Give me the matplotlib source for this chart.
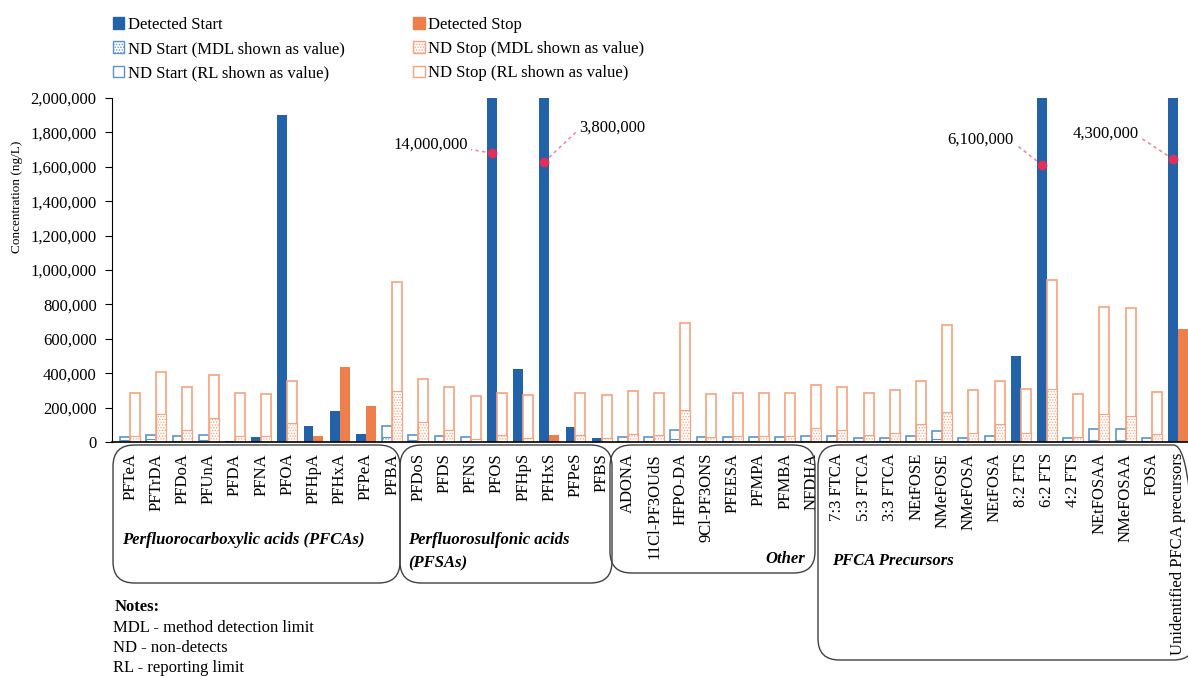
import numpy as np
import matplotlib.pyplot as plt
from matplotlib.patches import Patch, FancyBboxPatch

plt.rcParams['font.family'] = ['Liberation Serif', 'DejaVu Serif']
plt.rcParams['hatch.linewidth'] = 0.6

# compounds, in plot order
names = ["PFTeA", "PFTrDA", "PFDoA", "PFUnA", "PFDA", "PFNA", "PFOA", "PFHpA", "PFHxA", "PFPeA", "PFBA",
         "PFDoS", "PFDS", "PFNS", "PFOS", "PFHpS", "PFHxS", "PFPeS", "PFBS",
         "ADONA", "11Cl-PF3OUdS", "HFPO-DA", "9Cl-PF3ONS", "PFEESA", "PFMPA", "PFMBA", "NFDHA",
         "7:3 FTCA", "5:3 FTCA", "3:3 FTCA", "NEtFOSE", "NMeFOSE", "NMeFOSA", "NEtFOSA",
         "8:2 FTS", "6:2 FTS", "4:2 FTS", "NEtFOSAA", "NMeFOSAA", "FOSA", "Unidentified PFCA precursors"]

groups = ["Perfluorocarboxylic acids (PFCAs)", "Perfluorosulfonic acids\n(PFSAs)", "Other", "PFCA Precursors"]
group_sizes = [11, 8, 8, 14]

# start sample: detected value (None = non-detect), MDL and RL for non-detects (ng/L)
start_det = [None, None, None, None, 8000, 27000, 1900000, 91000, 178000, 45000, None,
             None, None, None, 14000000, 423000, 3800000, 87000, 21000,
             None, None, None, None, None, None, None, None,
             None, None, None, None, None, None, None,
             500000, 6100000, None, None, None, None, 4300000]
start_mdl = [10000, 17000, 5000, 12000, 0, 0, 0, 0, 0, 0, 27000,
             10000, 6000, 4000, 0, 0, 0, 0, 0,
             5000, 5000, 15000, 5000, 5000, 5000, 5000, 6000,
             6000, 5000, 5000, 6000, 17000, 5000, 6000,
             0, 0, 5000, 10000, 10000, 5000, 0]
start_rl = [27000, 39000, 33000, 39000, 0, 0, 0, 0, 0, 0, 91000,
            39000, 33000, 27000, 0, 0, 0, 0, 0,
            27000, 27000, 70000, 27000, 27000, 27000, 27000, 33000,
            33000, 25000, 25000, 33000, 64000, 25000, 33000,
            0, 0, 25000, 74000, 74000, 25000, 0]

# stop sample
stop_det = [None, None, None, None, None, None, None, 33000, 438000, 209000, None,
            None, None, None, None, None, 39000, None, None,
            None, None, None, None, None, None, None, None,
            None, None, None, None, None, None, None,
            None, None, None, None, None, None, 659000]
stop_mdl = [37000, 161000, 68000, 138000, 37000, 32000, 109000, 0, 0, 0, 298000,
            116000, 68000, 16000, 39000, 21000, 0, 39000, 21000,
            48000, 39000, 184000, 27000, 35000, 35000, 35000, 80000,
            68000, 39000, 54000, 107000, 174000, 54000, 107000,
            54000, 308000, 27000, 161000, 149000, 45000, 0]
stop_rl = [287000, 409000, 320000, 388000, 287000, 281000, 357000, 0, 0, 0, 932000,
           368000, 320000, 266000, 287000, 271000, 0, 287000, 271000,
           298000, 287000, 692000, 277000, 283000, 283000, 283000, 330000,
           320000, 287000, 302000, 357000, 680000, 302000, 357000,
           308000, 942000, 277000, 787000, 781000, 293000, 0]

# off-scale values marked with a dot on the bar
offscale = ["PFOS", "PFHxS", "6:2 FTS", "Unidentified PFCA precursors"]

BLUE = "#2361A9"
BLUE_L = "#5B93CF"
ORANGE = "#EF7F4A"
ORANGE_L = "#F6A27E"

fig = plt.figure(figsize=(11.88, 6.77), dpi=100)
ax = fig.add_axes([112/1188, 1 - 442/677, 1 - 112/1188, 344/677])

x = np.arange(len(names))
w = 0.38
xs = x - w/2
xe = x + w/2

det_s = np.array([v if v is not None else 0 for v in start_det], float)
det_e = np.array([v if v is not None else 0 for v in stop_det], float)

ax.bar(xs, start_rl, w, facecolor="white", edgecolor=BLUE_L, linewidth=1.2)
ax.bar(xs, start_mdl, w, facecolor="white", edgecolor=BLUE_L, linewidth=0.8, hatch="......")
ax.bar(xs, det_s, w, color=BLUE, linewidth=0)
ax.bar(xe, stop_rl, w, facecolor="white", edgecolor=ORANGE_L, linewidth=1.2)
ax.bar(xe, stop_mdl, w, facecolor="white", edgecolor=ORANGE_L, linewidth=0.8, hatch="......")
ax.bar(xe, det_e, w, color=ORANGE, linewidth=0)

ax.set_ylim(0, 2000000)
ax.set_xlim(-0.69, len(names) - 1 + 0.38)
ax.set_yticks(np.arange(0, 2000001, 200000))
ax.yaxis.set_major_formatter(plt.FuncFormatter(lambda v, p: f"{int(v):,}"))
ax.tick_params(axis='y', labelsize=12, length=5, width=0.8, direction='out', pad=6)
ax.set_xticks(x)
ax.set_xticklabels(names, rotation=90, fontsize=12, va='top', ha='center')
ax.tick_params(axis='x', length=0, pad=8)
for s in ["top", "right"]:
    ax.spines[s].set_visible(False)
ax.spines["bottom"].set_linewidth(1.2)
ax.spines["left"].set_linewidth(0.8)

fig.text(17/1188, 1 - 197/677, "Concentration (ng/L)", rotation=90, fontsize=9.5,
         ha='center', va='center')

# markers and labels for off-scale bars
dot_y = {"PFOS": 1680000, "PFHxS": 1628000, "6:2 FTS": 1610000, "Unidentified PFCA precursors": 1645000}
lab_off = {"PFOS": (-0.8, 1730000, 'right'), "PFHxS": (1.2, 1830000, 'left'),
           "6:2 FTS": (-1.0, 1760000, 'right'), "Unidentified PFCA precursors": (-1.2, 1795000, 'right')}
for n in offscale:
    i = names.index(n)
    yd = dot_y[n]
    dx, yt, ha = lab_off[n]
    ax.plot([xs[i], xs[i] + dx], [yd, yt - 30000], ls=(0, (2, 2)), color="#F08CA0", lw=1.2,
            clip_on=False, zorder=4)
    ax.plot(xs[i], yd, 'o', color="#E0305A", ms=6, zorder=5, clip_on=False)
    ax.text(xs[i] + dx + (-0.1 if ha == 'right' else 0.15), yt, f"{start_det[i]:,}",
            ha=ha, va='center', fontsize=12)

# group boxes under the axis
box_px = [(113, 400, 583), (400, 612, 583), (610, 815, 573), (818, 1195, 660)]
lab_px = [(122, 540, 'left'), (408, 552, 'left'), (805, 559, 'right'), (832, 561, 'left')]
for (x0, x1, yb), (tx, ty, ha), g in zip(box_px, lab_px, groups):
    fig.patches.append(FancyBboxPatch((x0/1188, 1 - yb/677), (x1 - x0)/1188, (yb - 445)/677,
                                      boxstyle="round,pad=0,rounding_size=0.018",
                                      transform=fig.transFigure, facecolor='none',
                                      edgecolor="#404040", linewidth=1.0, mutation_aspect=1188/677))
    fig.text(tx/1188, 1 - ty/677, g, fontsize=12, fontweight='bold', style='italic',
             ha=ha, va='center', linespacing=1.6)

# notes
fig.text(115/1188, 1 - 607/677, "Notes:", fontsize=12, fontweight='bold', va='center')
notes = ["MDL - method detection limit", "ND - non-detects", "RL - reporting limit"]
for k, t in enumerate(notes):
    fig.text(113/1188, 1 - (628 + 20*k)/677, t, fontsize=12, va='center')

handles = [Patch(facecolor=BLUE, edgecolor=BLUE),
           Patch(facecolor='white', edgecolor=BLUE_L, hatch='......'),
           Patch(facecolor='white', edgecolor=BLUE_L),
           Patch(facecolor=ORANGE, edgecolor=ORANGE),
           Patch(facecolor='white', edgecolor=ORANGE_L, hatch='......'),
           Patch(facecolor='white', edgecolor=ORANGE_L)]
labels = ["Detected Start", "ND Start (MDL shown as value)", "ND Start (RL shown as value)",
          "Detected Stop", "ND Stop (MDL shown as value)", "ND Stop (RL shown as value)"]
fig.legend(handles, labels, ncol=2, loc='upper left', bbox_to_anchor=(101/1188, 1 - 5/677),
           frameon=False, fontsize=12, handlelength=0.7, handleheight=0.7, handletextpad=0.2,
           labelspacing=0.5, columnspacing=4.1, borderpad=0.2)

fig.savefig("out.png", dpi=100)
